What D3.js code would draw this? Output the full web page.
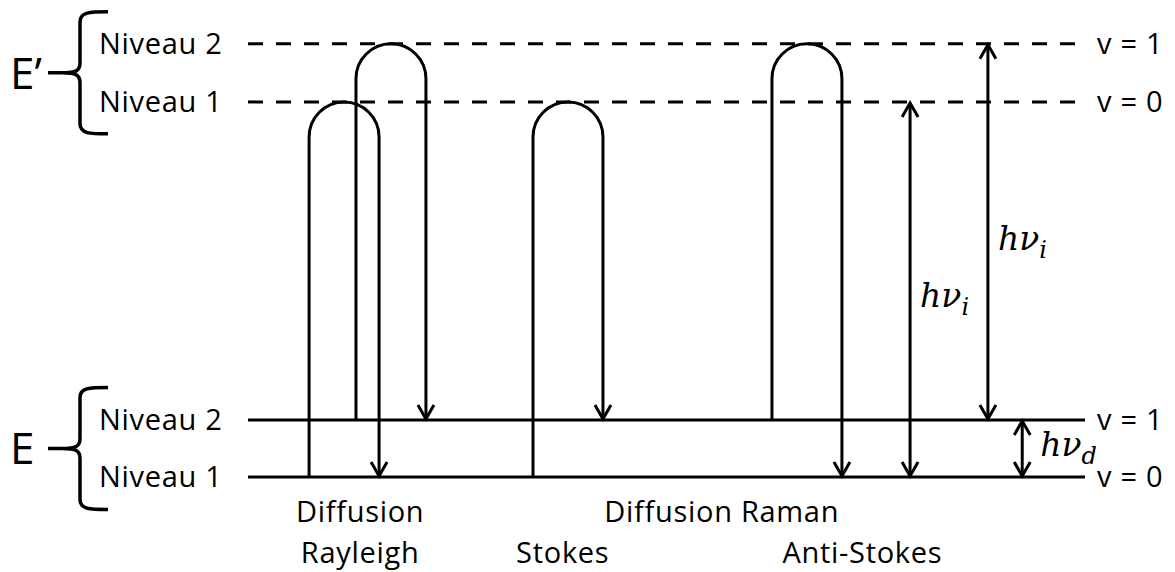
<!DOCTYPE html>
<html>
<head>
<meta charset="utf-8">
<style>
  body { margin: 0; background: #fff; }
  svg text { font-family: "Open Sans", sans-serif; fill: #000; }
  .math { font-family: "DejaVu Serif", serif; font-style: italic; }
</style>
</head>
<body>
<script src="https://cdn.jsdelivr.net/npm/d3@7"></script>
<script>
// energy levels (ground state E, virtual state E')
const levelGroup = ["E", "E", "E’", "E’"];
const levelEnergy = [0, 1, 6.58, 7.6];
const levelNames = ["Niveau 1", "Niveau 2", "Niveau 1", "Niveau 2"];
const levelV = ["v = 0", "v = 1", "v = 0", "v = 1"];

// scattering loops: up from one level, over a virtual level, down to another
const scatterNames = ["Rayleigh 1", "Rayleigh 2", "Stokes", "Anti-Stokes"];
const scatterX = [7.3, 12.9, 34.05, 62.6];
const scatterFrom = [0, 1, 0, 1];
const scatterPeak = [2, 3, 2, 3];
const scatterTo = [0, 1, 1, 0];
const loopWidth = 8.36;

// photon energy arrows
const gapX = [79.1, 88.4, 92.5];
const gapFrom = [0, 1, 0];
const gapTo = [2, 3, 1];
const gapSub = ["i", "i", "d"];

// captions under the diagram
const captionText = ["Diffusion", "Rayleigh", "Diffusion Raman", "Stokes", "Anti-Stokes"];
const captionX = [13.4, 13.4, 56.6, 37.6, 73.4];
const captionRow = [0, 1, 0, 1, 1];

const W = 1175, H = 572;
const x = d3.scaleLinear().domain([0, 100]).range([248, 1085]);
const y = d3.scaleLinear().domain([0, 1]).range([477, 420]);
const row = d3.scalePoint().domain([0, 1]).range([522, 563]);

const svg = d3.select("body").append("svg").attr("width", W).attr("height", H);
const ink = 3;
const fs = 29, ls = "0.7px";

// level lines
const levels = levelEnergy.map((e, i) => ({e, i, g: levelGroup[i]}));
svg.selectAll(".level").data(levels).enter().append("line")
    .attr("x1", x(0)).attr("x2", x(100))
    .attr("y1", d => y(d.e)).attr("y2", d => y(d.e))
    .attr("stroke", "#000").attr("stroke-width", ink)
    .attr("stroke-dasharray", d => d.g === "E" ? null : "15,13");

svg.selectAll(".lname").data(levels).enter().append("text")
    .attr("x", 99).attr("y", d => y(d.e)).attr("dy", "0.36em")
    .attr("font-size", fs).attr("letter-spacing", ls).text(d => levelNames[d.i]);

svg.selectAll(".vname").data(levels).enter().append("text")
    .attr("x", 1097).attr("y", d => y(d.e)).attr("dy", "0.36em")
    .attr("font-size", fs).attr("letter-spacing", ls).text(d => levelV[d.i]);

// braces + E / E'
const groups = Array.from(d3.group(levels, d => d.g), ([g, v]) => ({g, v}));
groups.forEach(({g, v}) => {
    const ys = v.map(d => y(d.e));
    const mid = (d3.min(ys) + d3.max(ys)) / 2;
    const top = mid - 61, bot = mid + 61, bx = 80;
    const p = d3.path();
    p.moveTo(108, top);
    p.bezierCurveTo(90, top, bx, top, bx, top + 10);
    p.lineTo(bx, mid - 10);
    p.bezierCurveTo(bx, mid - 2, 76, mid, 62, mid);
    p.lineTo(48, mid);
    p.moveTo(62, mid);
    p.bezierCurveTo(76, mid, bx, mid + 2, bx, mid + 10);
    p.lineTo(bx, bot - 10);
    p.bezierCurveTo(bx, bot, 90, bot, 108, bot);
    svg.append("path").attr("d", p.toString())
        .attr("fill", "none").attr("stroke", "#000").attr("stroke-width", 3.5);
    svg.append("text").attr("x", 10).attr("y", mid).attr("dy", "0.36em")
        .attr("font-size", 44).text(g);
});

function arrowHead(px, py, dir) {
    // dir = 1 pointing down, -1 pointing up
    return `M${px - 8},${py - dir * 14}L${px},${py}L${px + 8},${py - dir * 14}`;
}

// scattering loops
scatterNames.forEach((n, i) => {
    const x0 = x(scatterX[i]), x1 = x(scatterX[i] + loopWidth);
    const r = (x1 - x0) / 2;
    const yc = y(levelEnergy[scatterPeak[i]]) + r;
    const yTo = y(levelEnergy[scatterTo[i]]);
    const p = d3.path();
    p.moveTo(x0, y(levelEnergy[scatterFrom[i]]));
    p.lineTo(x0, yc);
    p.arc(x0 + r, yc, r, Math.PI, 0);
    p.lineTo(x1, yTo - 1);
    svg.append("path").attr("d", p.toString())
        .attr("fill", "none").attr("stroke", "#000").attr("stroke-width", ink);
    svg.append("path").attr("d", arrowHead(x1, yTo - 1, 1))
        .attr("fill", "none").attr("stroke", "#000").attr("stroke-width", ink);
});

// energy arrows with hν labels
gapX.forEach((gx, i) => {
    const px = x(gx);
    const yLow = y(levelEnergy[gapFrom[i]]) - 1, yHigh = y(levelEnergy[gapTo[i]]) + 1;
    svg.append("line").attr("x1", px).attr("x2", px).attr("y1", yLow).attr("y2", yHigh)
        .attr("stroke", "#000").attr("stroke-width", ink);
    svg.append("path").attr("d", arrowHead(px, yLow, 1) + arrowHead(px, yHigh, -1))
        .attr("fill", "none").attr("stroke", "#000").attr("stroke-width", ink);
    const mid = (yLow + yHigh) / 2;
    const short = yLow - yHigh < 100;
    const t = svg.append("text").attr("class", "math")
        .attr("x", px + (short ? 18 : 10)).attr("y", short ? yLow - 20 : mid + 18)
        .attr("font-size", 33).text("hν");
    t.append("tspan").attr("font-size", 24).attr("dy", 8).text(gapSub[i]);
});

// captions
svg.selectAll(".caption").data(captionText).enter().append("text")
    .attr("x", (d, i) => x(captionX[i])).attr("y", (d, i) => row(captionRow[i]))
    .attr("text-anchor", "middle").attr("font-size", fs).attr("letter-spacing", ls)
    .text(d => d);
</script>
</body>
</html>
